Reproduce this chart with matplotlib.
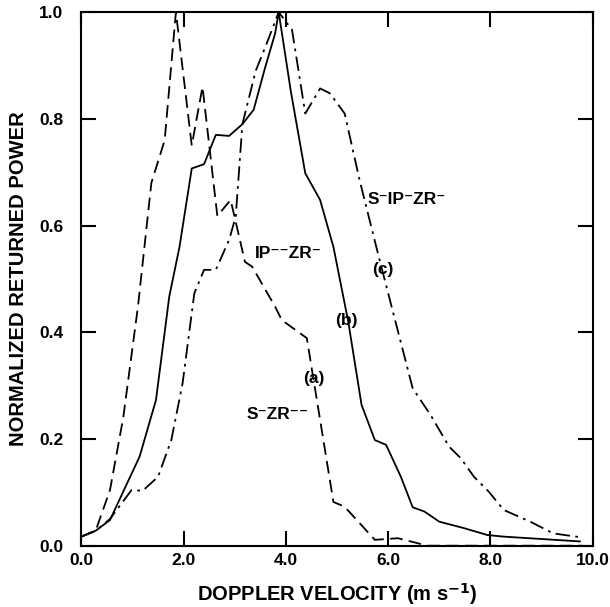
import matplotlib
matplotlib.use("Agg")
import matplotlib.pyplot as plt

plt.rcParams["font.family"] = ["Liberation Sans", "DejaVu Sans"]
plt.rcParams["font.weight"] = "bold"

# (a) S-ZR-  dashed
vel_a = [0.0, 0.28, 0.56, 0.82, 1.11, 1.37, 1.63, 1.85, 2.16, 2.37, 2.66, 2.92, 3.2, 3.34,
         3.79, 3.92, 4.28, 4.41, 4.93, 5.15, 5.74, 6.19, 6.77, 9.8]
pow_a = [0.017, 0.028, 0.104, 0.24, 0.45, 0.68, 0.76, 1.0, 0.75, 0.86, 0.618, 0.648, 0.532, 0.523,
         0.448, 0.423, 0.398, 0.389, 0.082, 0.073, 0.011, 0.014, 0.0, 0.0]

# (b) IP-ZR-  solid
vel_b = [0.0, 0.28, 0.56, 1.14, 1.46, 1.72, 1.92, 2.16, 2.40, 2.63, 2.89, 3.15, 3.37, 3.6,
         3.79, 3.86, 4.1, 4.38, 4.67, 4.93, 5.22, 5.48, 5.74, 5.96, 6.25, 6.48, 6.71, 7.0,
         7.48, 7.94, 8.26, 9.75]
pow_b = [0.017, 0.028, 0.048, 0.167, 0.273, 0.467, 0.56, 0.707, 0.715, 0.77, 0.768, 0.79, 0.817, 0.898,
         0.96, 1.0, 0.85, 0.698, 0.648, 0.56, 0.42, 0.264, 0.198, 0.189, 0.129, 0.072, 0.064, 0.045,
         0.033, 0.02, 0.017, 0.008]

# (c) S-IP-ZR-  dash-dot
vel_c = [0.0, 0.28, 0.56, 0.98, 1.2, 1.5, 1.76, 1.98, 2.21, 2.40, 2.63, 2.89, 3.02, 3.15, 3.41,
         3.6, 3.86, 4.12, 4.38, 4.67, 4.86, 5.15, 5.44, 5.8, 6.06, 6.48, 6.83, 7.19, 7.42, 7.68,
         7.97, 8.26, 8.78, 9.23, 9.75]
pow_c = [0.017, 0.028, 0.05, 0.104, 0.103, 0.129, 0.198, 0.304, 0.473, 0.517, 0.517, 0.573, 0.617,
         0.79, 0.89, 0.935, 1.0, 0.967, 0.81, 0.857, 0.848, 0.81, 0.686, 0.548, 0.451, 0.295, 0.245,
         0.186, 0.164, 0.129, 0.101, 0.067, 0.045, 0.023, 0.016]

x_ticks = [0.0, 2.0, 4.0, 6.0, 8.0, 10.0]
y_ticks = [0.0, 0.2, 0.4, 0.6, 0.8, 1.0]

fig = plt.figure(figsize=(6.1, 6.07), dpi=100)
ax = fig.add_axes([0.1333, 0.101, 0.8383, 0.879])

ax.plot(vel_a, pow_a, color="black", lw=1.3, dashes=(7, 3.5))
ax.plot(vel_b, pow_b, color="black", lw=1.3)
ax.plot(vel_c, pow_c, color="black", lw=1.3, dashes=(8, 3, 1.5, 3))

ax.set_xlim(0, 10)
ax.set_ylim(0, 1)
ax.set_xticks(x_ticks)
ax.set_yticks(y_ticks)
ax.set_xticklabels([f"{v:.1f}" for v in x_ticks])
ax.set_yticklabels([f"{v:.1f}" for v in y_ticks])
ax.tick_params(direction="in", length=11, width=1.5, top=True, right=True, labelsize=12.5)
ax.tick_params(axis="y", pad=13)
ax.tick_params(axis="x", pad=5)
for sp in ax.spines.values():
    sp.set_linewidth(1.5)

ax.set_xlabel(r"DOPPLER VELOCITY (m s$^{\mathbf{-1}}$)", fontsize=14.5, fontweight="bold", labelpad=10)
ax.set_ylabel("NORMALIZED RETURNED POWER", fontsize=14.5, fontweight="bold", labelpad=8)

txt = dict(fontsize=12.5, fontweight="bold", ha="center", va="center")
ax.text(6.37, 0.648, "S⁻IP⁻ZR⁻", **txt)
ax.text(4.05, 0.548, "IP⁻⁻ZR⁻", **txt)
ax.text(3.84, 0.245, "S⁻ZR⁻⁻", **txt)
ax.text(5.9, 0.517, "(c)", **txt)
ax.text(5.18, 0.423, "(b)", **txt)
ax.text(4.54, 0.314, "(a)", **txt)

fig.savefig("out.png", dpi=100)
